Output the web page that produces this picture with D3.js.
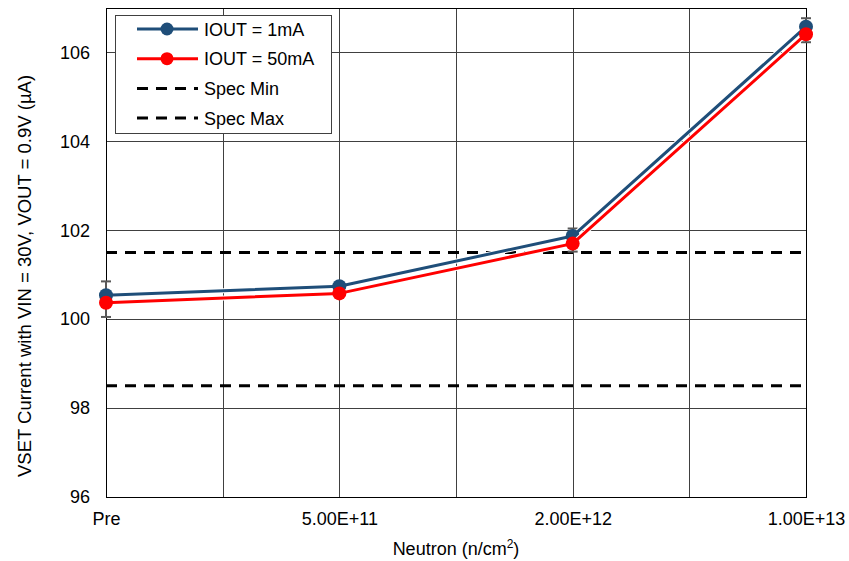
<!DOCTYPE html>
<html>
<head>
<meta charset="utf-8">
<script src="https://cdn.jsdelivr.net/npm/d3@7"></script>
<style>
  html, body { margin: 0; padding: 0; background: #fff; }
  svg { display: block; font-family: "Liberation Sans", Arial, sans-serif; }
</style>
</head>
<body>
<svg id="chart" width="849" height="561"></svg>
<script>
// Neutron fluence steps (category positions on the x axis)
const categories = ["Pre", "5.00E+11", "2.00E+12", "1.00E+13"];

// VSET current (µA) per fluence step
const iout1mA  = [100.54, 100.74, 101.87, 106.58];
const iout50mA = [100.37, 100.58, 101.70, 106.41];

// Spread of the measured units (± µA) around the mean
const errCenter = [100.45, 100.66, 101.78, 106.50];
const errHalf   = [0.40, 0.10, 0.26, 0.27];

const specMin = 98.5;
const specMax = 101.5;

const yTicks = [96, 98, 100, 102, 104, 106];

const svg = d3.select("#chart");
const margin = { left: 106, right: 43, top: 8, bottom: 64 };
const W = 849, H = 561;
const x = d3.scaleLinear().domain([0, categories.length - 1]).range([margin.left, W - margin.right]);
const y = d3.scaleLinear().domain([96, 107]).range([H - margin.bottom, margin.top]);

const gridColor = "#404040";
const fontFamily = "Liberation Sans, Arial, sans-serif";

// Gridlines: horizontal at each y tick, vertical at every half category step
const grid = svg.append("g");
grid.selectAll("line.h").data(yTicks).join("line")
  .attr("x1", x(0)).attr("x2", x(3))
  .attr("y1", d => Math.round(y(d)) + 0.5).attr("y2", d => Math.round(y(d)) + 0.5)
  .attr("stroke", gridColor).attr("stroke-width", 1);
grid.selectAll("line.v").data(d3.range(0, 3.01, 0.5)).join("line")
  .attr("x1", d => Math.round(x(d)) + 0.5).attr("x2", d => Math.round(x(d)) + 0.5)
  .attr("y1", y(107)).attr("y2", y(96))
  .attr("stroke", gridColor).attr("stroke-width", 1);

// Plot frame
svg.append("rect")
  .attr("x", x(0) + 0.5).attr("y", y(107) + 0.5)
  .attr("width", x(3) - x(0)).attr("height", y(96) - y(107))
  .attr("fill", "none").attr("stroke", "#000").attr("stroke-width", 1);

// Axes
const yAxis = d3.axisLeft(y).tickValues(yTicks).tickSize(0).tickPadding(16);
svg.append("g").attr("transform", `translate(${x(0)},0)`).call(yAxis)
  .call(g => g.select(".domain").remove())
  .call(g => g.selectAll("text").attr("font-size", 18).attr("fill", "#000")
    .attr("font-family", fontFamily));

const xAxis = d3.axisBottom(x).tickValues(d3.range(categories.length))
  .tickFormat(i => categories[i]).tickSize(0).tickPadding(15);
svg.append("g").attr("transform", `translate(0,${y(96)})`).call(xAxis)
  .call(g => g.select(".domain").remove())
  .call(g => g.selectAll("text").attr("font-size", 18).attr("fill", "#000")
    .attr("font-family", fontFamily));

// Axis titles
const xt = svg.append("text").attr("x", (x(0) + x(3)) / 2).attr("y", 555)
  .attr("text-anchor", "middle").attr("font-size", 18);
xt.append("tspan").text("Neutron (n/cm");
xt.append("tspan").text("2").attr("font-size", 12).attr("dy", -7);
xt.append("tspan").text(")").attr("dy", 7);

svg.append("text")
  .attr("transform", `translate(31,276) rotate(-90)`)
  .attr("text-anchor", "middle").attr("font-size", 18.5)
  .text("VSET Current with VIN = 30V, VOUT = 0.9V (µA)");

// Spec limits
[specMin, specMax].forEach(v => {
  svg.append("line")
    .attr("x1", x(0)).attr("x2", x(3))
    .attr("y1", y(v)).attr("y2", y(v))
    .attr("stroke", "#000").attr("stroke-width", 3)
    .attr("stroke-dasharray", "11,8");
});

// Error bars
const eb = svg.append("g").attr("stroke", "#595959").attr("stroke-width", 2);
errCenter.forEach((c, i) => {
  const cx = x(i), y0 = y(c - errHalf[i]), y1 = y(c + errHalf[i]);
  eb.append("line").attr("x1", cx).attr("x2", cx).attr("y1", y0).attr("y2", y1);
  eb.append("line").attr("x1", cx - 5).attr("x2", cx + 5).attr("y1", y0).attr("y2", y0);
  eb.append("line").attr("x1", cx - 5).attr("x2", cx + 5).attr("y1", y1).attr("y2", y1);
});

// Data series
const line = d3.line().x((d, i) => x(i)).y(d => y(d));
const series = [
  { name: "IOUT = 1mA", values: iout1mA, color: "#1F4E79" },
  { name: "IOUT = 50mA", values: iout50mA, color: "#FF0000" }
];
series.forEach(s => {
  svg.append("path").datum(s.values).attr("d", line)
    .attr("fill", "none").attr("stroke", "#fff").attr("stroke-width", 5)
    .attr("stroke-linejoin", "round");
  svg.append("path").datum(s.values).attr("d", line)
    .attr("fill", "none").attr("stroke", s.color).attr("stroke-width", 3)
    .attr("stroke-linejoin", "round");
  svg.append("g").selectAll("circle").data(s.values).join("circle")
    .attr("cx", (d, i) => x(i)).attr("cy", d => y(d)).attr("r", 7)
    .attr("fill", s.color);
});

// Legend
const lg = svg.append("g");
lg.append("rect").attr("x", 115.5).attr("y", 15.5).attr("width", 216).attr("height", 118)
  .attr("fill", "#fff").attr("stroke", "#404040").attr("stroke-width", 1);
const legendItems = [
  { label: "IOUT = 1mA", color: "#1F4E79", marker: true },
  { label: "IOUT = 50mA", color: "#FF0000", marker: true },
  { label: "Spec Min", color: "#000", marker: false },
  { label: "Spec Max", color: "#000", marker: false }
];
legendItems.forEach((d, i) => {
  const cy = 29 + i * 29.7;
  const l = lg.append("line").attr("x1", 137).attr("x2", 198).attr("y1", cy).attr("y2", cy)
    .attr("stroke", d.color).attr("stroke-width", 3);
  if (d.marker) {
    lg.append("circle").attr("cx", 167).attr("cy", cy).attr("r", 6.5).attr("fill", d.color);
  } else {
    l.attr("stroke-dasharray", "11,8");
  }
  lg.append("text").attr("x", 204).attr("y", cy + 6.5).attr("font-size", 18)
    .text(d.label);
});
</script>
</body>
</html>
